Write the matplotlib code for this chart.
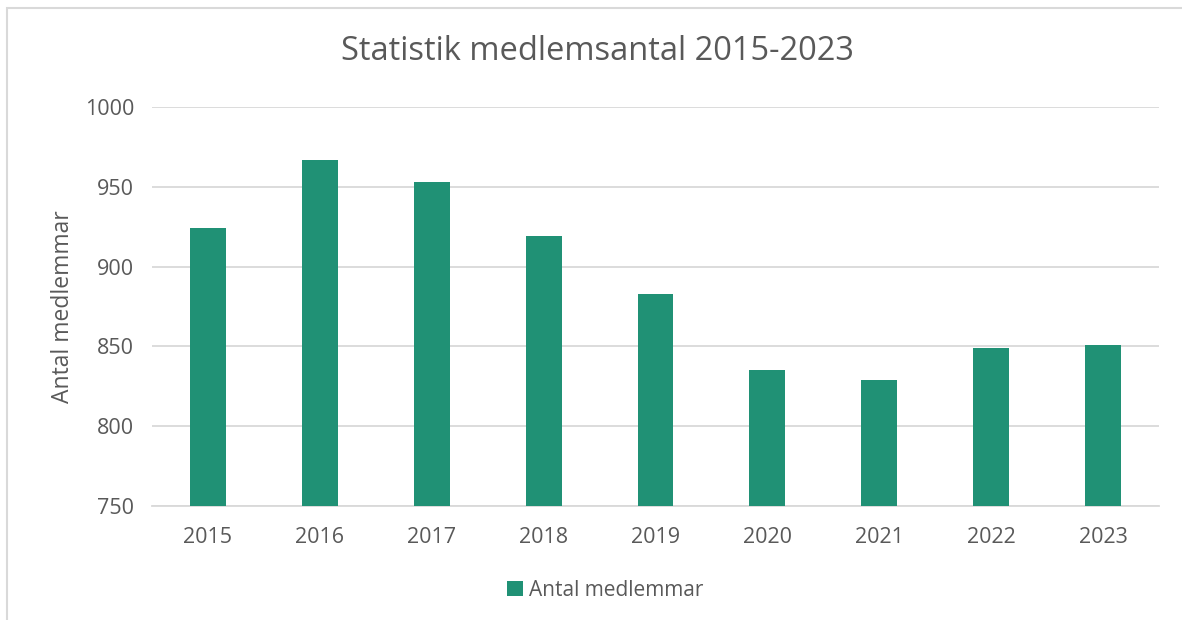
import matplotlib.pyplot as plt
from matplotlib.patches import Rectangle

years = ["2015", "2016", "2017", "2018", "2019", "2020", "2021", "2022", "2023"]
members = [924, 967, 953, 919, 883, 835, 829, 849, 851]
yticks = [750, 800, 850, 900, 950, 1000]

plt.rcParams['font.family'] = ['Open Sans', 'DejaVu Sans']
txt = "#595959"
green = "#209175"

fig = plt.figure(figsize=(11.82, 6.2), dpi=100)
ax = fig.add_axes([152/1182, 1 - 506/620, (1159 - 152)/1182, (506 - 107)/620])

ax.bar(years, members, width=0.32, color=green, label="Antal medlemmar", zorder=3)
ax.set_ylim(750, 1000)
ax.set_xlim(-0.5, len(years) - 0.5)
ax.set_yticks(yticks)
ax.grid(axis="y", color="#d9d9d9", linewidth=1.3, zorder=0)
for s in ["top", "right", "left"]:
    ax.spines[s].set_visible(False)
ax.spines["bottom"].set_color("#d9d9d9")
ax.spines["bottom"].set_linewidth(1.3)
ax.tick_params(axis="both", length=0, labelsize=15.5, colors=txt)
ax.tick_params(axis="x", pad=15)
ax.tick_params(axis="y", pad=13)
ax.set_ylabel("Antal medlemmar", fontsize=16.5, color=txt, labelpad=7)

fig.text(597/1182, 1 - 52/620, "Statistik medlemsantal 2015-2023", ha="center", va="center",
         fontsize=23.5, color=txt)

fig.legend(loc="center", bbox_to_anchor=(605/1182, 1 - 590/620), frameon=False,
           fontsize=15, labelcolor=txt, handlelength=0.75, handleheight=0.75, handletextpad=0.3)

fig.patches.append(Rectangle((7/1182, -0.1), 1.2, 1 - 8/620 + 0.1, transform=fig.transFigure,
                             fill=False, edgecolor="#d9d9d9", linewidth=1.5))

fig.savefig("out.png", dpi=100)
